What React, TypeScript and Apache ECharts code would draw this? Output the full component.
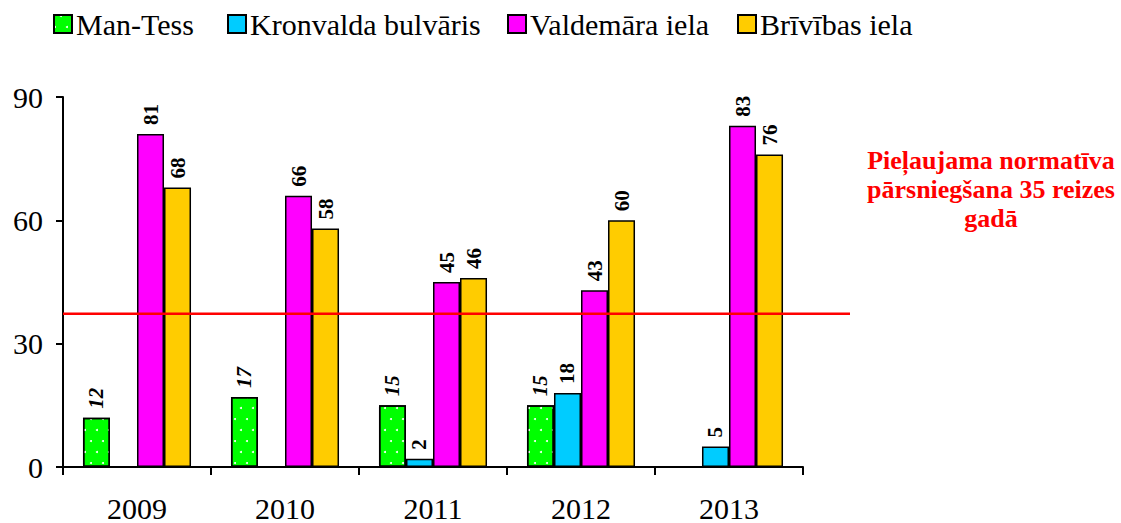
import React, { useEffect, useRef } from "react";
import * as echarts from "echarts";

const years = ["2009", "2010", "2011", "2012", "2013"];
const seriesNames = ["Man-Tess", "Kronvalda bulvāris", "Valdemāra iela", "Brīvības iela"];
const manTess = [12, 17, 15, 15, null];
const kronvalda = [null, null, 2, 18, 5];
const valdemara = [81, 66, 45, 43, 83];
const brivibas = [68, 58, 46, 60, 76];
const limitValue = 37.3;
const limitText = "Pieļaujama normatīva\npārsniegšana 35 reizes\ngadā";

const FONT = "'Liberation Serif', 'Times New Roman', serif";
const legendLefts = [48, 222, 502, 732];

export default function App() {
  const ref = useRef<HTMLDivElement>(null);
  useEffect(() => {
    document.body.style.margin = "0";
    const chart = echarts.init(ref.current!, null, { renderer: "svg" });
    const labelBase = {
      show: true,
      position: "top",
      rotate: 90,
      align: "left",
      verticalAlign: "middle",
      distance: 9,
      fontFamily: FONT,
      fontSize: 21,
      fontWeight: "bold",
      color: "#000",
      formatter: (p: any) => (p.value == null ? "" : String(p.value)),
    };
    const mk = (name: string, data: any[], color: string, extra: any = {}) => ({
      name,
      type: "bar",
      data,
      barGap: "0%",
      barCategoryGap: "27%",
      itemStyle: { color, borderColor: "#000", borderWidth: 1.5, ...(extra.itemStyle || {}) },
      label: { ...labelBase, ...(extra.label || {}) },
    });
    chart.setOption({
      animation: false,
      legend: seriesNames.map((n, i) => ({
        top: 4,
        left: legendLefts[i],
        itemWidth: 18,
        itemHeight: 18,
        icon: "rect",
        itemStyle: { borderColor: "#000", borderWidth: 2 },
        textStyle: { fontFamily: FONT, fontSize: 30, color: "#000", padding: [0, 0, 0, -1] },
        data: [n],
      })),
      grid: { left: 63, right: 318, top: 97, bottom: 55 },
      xAxis: {
        type: "category",
        data: years,
        axisLine: { lineStyle: { color: "#000", width: 2 } },
        axisTick: { show: true, length: 8, lineStyle: { color: "#000", width: 2 } },
        axisLabel: { fontFamily: FONT, fontSize: 30, color: "#000", margin: 26 },
      },
      yAxis: {
        type: "value",
        min: 0,
        max: 90,
        interval: 30,
        splitLine: { show: false },
        axisLine: { show: true, lineStyle: { color: "#000", width: 2 } },
        axisTick: { show: true, length: 7, lineStyle: { color: "#000", width: 2 } },
        axisLabel: { fontFamily: FONT, fontSize: 30, color: "#000", margin: 20 },
      },
      series: [
        mk(seriesNames[0], manTess, "#00FF00", {
          itemStyle: {
            decal: {
              symbol: "circle",
              symbolSize: 1,
              color: "#ffffff",
              dashArrayX: [[2, 10], [0, 6, 2, 4]],
              dashArrayY: [2, 9],
              rotation: 0,
            },
          },
          label: { fontStyle: "italic" },
        }),
        mk(seriesNames[1], kronvalda, "#00CCFF"),
        mk(seriesNames[2], valdemara, "#FF00FF"),
        mk(seriesNames[3], brivibas, "#FFCC00"),
      ],
    });
    const y = chart.convertToPixel({ yAxisIndex: 0 }, limitValue) as number;
    chart.setOption({
      graphic: [
        {
          type: "line",
          shape: { x1: 63, y1: y, x2: 850, y2: y },
          style: { stroke: "#FF0000", lineWidth: 2.5 },
          z: 10,
        },
        {
          type: "text",
          x: 991,
          y: 146,
          style: {
            text: limitText,
            fill: "#FF0000",
            fontFamily: FONT,
            fontSize: 26,
            fontWeight: "bold",
            align: "center",
            verticalAlign: "top",
            lineHeight: 29,
          },
        },
      ],
    });
    return () => chart.dispose();
  }, []);
  return <div ref={ref} style={{ width: 1121, height: 523 }} />;
}
